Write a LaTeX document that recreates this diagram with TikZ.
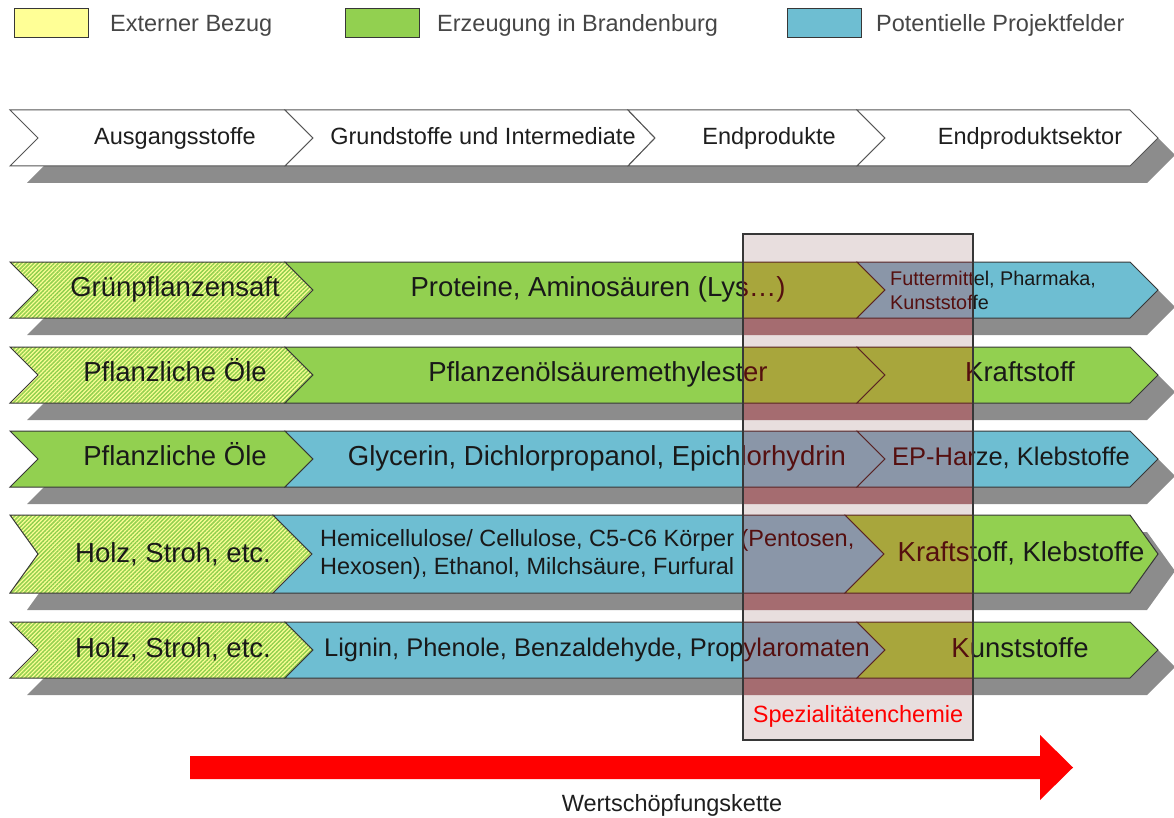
\documentclass[tikz,border=0pt]{standalone}
\usepackage{fontspec}
\setmainfont{Liberation Sans}
\usetikzlibrary{patterns.meta}

% base colours
\definecolor{legYellow}{RGB}{255,255,150}
\definecolor{chGreen}{RGB}{146,208,80}
\definecolor{chBlue}{RGB}{110,190,210}
\definecolor{chShadow}{RGB}{140,140,140}
\definecolor{chLine}{RGB}{55,55,55}
\definecolor{chText}{RGB}{25,25,25}
\definecolor{headText}{RGB}{30,30,30}
\definecolor{legText}{RGB}{70,70,70}
\definecolor{chainRed}{RGB}{255,0,0}
% tints seen through the "Spezialitätenchemie" frame
\definecolor{hlBack}{RGB}{232,222,222}
\definecolor{hlGreen}{RGB}{168,166,60}
\definecolor{hlBlue}{RGB}{138,150,168}
\definecolor{hlShadow}{RGB}{165,108,112}
\definecolor{hlText}{RGB}{85,15,15}
\definecolor{hlLine}{RGB}{90,35,35}

% colours used by the rows (switched inside the frame)
\colorlet{segGreen}{chGreen}
\colorlet{segBlue}{chBlue}
\colorlet{segShadow}{chShadow}
\colorlet{segLine}{chLine}
\colorlet{segText}{chText}

% one chevron segment: style, x-left, x-right, top, bottom, notch depth, tip depth
\newcommand\chevseg[7]{%
  \path[#1] (#2,#4) -- (#3,#4) -- ({#3+#7},{(#4+#5)/2}) -- (#3,#5)
    -- (#2,#5) -- ({#2+#6},{(#4+#5)/2}) -- cycle;}
% drop shadow under a full row
\newcommand\chevshadow[2]{%
  \path[shadow seg, shift={(17,17)}] (10,#1) -- (1130,#1) -- (1158,{(#1+#2)/2})
    -- (1130,#2) -- (10,#2) -- (38,{(#1+#2)/2}) -- cycle;}
% a row of three segments
\newcommand\chevrow[9]{%
  \chevshadow{#1}{#2}%
  \chevseg{#3}{10}{#4}{#1}{#2}{28}{#5}%
  \chevseg{#6}{#4}{#7}{#1}{#2}{#5}{#8}%
  \chevseg{#9}{#7}{1130}{#1}{#2}{#8}{28}}

% the five process chains with their labels
\newcommand\processrows{%
  \chevrow{262}{318}{hatch seg}{285}{28}{green seg}{857}{28}{blue seg}
  \chevrow{347}{403}{hatch seg}{285}{28}{green seg}{857}{28}{green seg}
  \chevrow{431}{487}{green seg}{285}{28}{blue seg}{857}{28}{blue seg}
  \chevrow{515}{593}{hatch seg}{273}{39}{blue seg}{845}{39}{green seg}
  \chevrow{622}{678}{hatch seg}{285}{28}{blue seg}{857}{28}{green seg}
  % row 1
  \node[big label] (r1a) at (175,287) {Grünpflanzensaft};
  \node[big label] (r1b) at (598,287) {Proteine, Aminosäuren (Lys…)};
  \node[small label, anchor=west] (r1c) at (890,290) {Futtermittel, Pharmaka,\\Kunststoffe};
  % row 2
  \node[big label] (r2a) at (175,372) {Pflanzliche Öle};
  \node[big label] (r2b) at (598,372) {Pflanzenölsäuremethylester};
  \node[big label] (r2c) at (1020,372) {Kraftstoff};
  % row 3
  \node[big label] (r3a) at (175,456) {Pflanzliche Öle};
  \node[big label] (r3b) at (597,456) {Glycerin, Dichlorpropanol, Epichlorhydrin};
  \node[ep label] (r3c) at (1011,456) {EP-Harze, Klebstoffe};
  % row 4
  \node[big label] (r4a) at (173,553) {Holz, Stroh, etc.};
  \node[two label, anchor=west] (r4b) at (320,554) {Hemicellulose/ Cellulose, C5-C6 Körper (Pentosen,\\Hexosen), Ethanol, Milchsäure, Furfural};
  \node[big label] (r4c) at (1021,552) {Kraftstoff, Klebstoffe};
  % row 5
  \node[big label] (r5a) at (173,647.5) {Holz, Stroh, etc.};
  \node[ep label] (r5b) at (597,647.5) {Lignin, Phenole, Benzaldehyde, Propylaromaten};
  \node[big label] (r5c) at (1020,647.5) {Kunststoffe};
}

\begin{document}
\begin{tikzpicture}[x=1pt, y=-1pt,
  seg base/.style={draw=segLine, line width=1pt, line join=miter},
  green seg/.style={seg base, fill=segGreen},
  blue seg/.style={seg base, fill=segBlue},
  hatch seg/.style={seg base, preaction={fill=legYellow},
    pattern={Lines[angle=45, distance=2.9pt, line width=1.5pt]}, pattern color=segGreen},
  white seg/.style={draw=chLine!85, line width=1pt, fill=white},
  shadow seg/.style={fill=segShadow},
  big label/.style={text=segText, inner sep=0pt, text height=19.7pt, text depth=0pt,
    font=\fontsize{27.5}{33}\selectfont},
  ep label/.style={big label, text height=18.3pt, font=\fontsize{25.5}{30}\selectfont},
  two label/.style={text=segText, inner sep=0pt, align=left,
    font=\fontsize{23.5}{28}\selectfont},
  small label/.style={text=segText, inner sep=0pt, align=left,
    font=\fontsize{19.8}{24}\selectfont},
  head label/.style={text=headText, inner sep=0pt, text height=16.8pt, text depth=0pt,
    font=\fontsize{23.5}{28}\selectfont},
  legend box/.style={draw=chLine, line width=1pt, minimum width=74pt, minimum height=29pt,
    inner sep=0pt},
  legend label/.style={text=legText, anchor=west, inner sep=0pt, text height=16.8pt,
    text depth=0pt, font=\fontsize{23.5}{28}\selectfont},
]
\useasboundingbox (0,0) rectangle (1174,818);

% legend
\node[legend box, fill=legYellow] (keyExt) at (51,23) {};
\node[legend label] (txtExt) at (110,23) {Externer Bezug};
\node[legend box, fill=chGreen] (keyBB) at (382.5,23) {};
\node[legend label] (txtBB) at (437,23) {Erzeugung in Brandenburg};
\node[legend box, fill=chBlue] (keyPF) at (824.5,23) {};
\node[legend label] (txtPF) at (876,23) {Potentielle Projektfelder};

% stage header
\chevshadow{110}{166}
\chevseg{white seg}{10}{285}{110}{166}{28}{28}
\chevseg{white seg}{285}{628}{110}{166}{28}{27}
\chevseg{white seg}{628}{857}{110}{166}{27}{28}
\chevseg{white seg}{857}{1130}{110}{166}{28}{28}
\node[head label] (h1) at (175,136) {Ausgangsstoffe};
\node[head label] (h2) at (483,136) {Grundstoffe und Intermediate};
\node[head label] (h3) at (769,136) {Endprodukte};
\node[head label] (h4) at (1030,136) {Endproduktsektor};

% process chains
\processrows

% the same chains seen through the highlight frame
\begin{scope}[name prefix=hl-]
  \colorlet{segGreen}{hlGreen}
  \colorlet{segBlue}{hlBlue}
  \colorlet{segShadow}{hlShadow}
  \colorlet{segLine}{hlLine}
  \colorlet{segText}{hlText}
  \clip (743,234) rectangle (973,740);
  \fill[hlBack] (743,234) rectangle (973,740);
  \processrows
\end{scope}
\node[draw=chLine, line width=1.2pt, minimum width=230pt, minimum height=506pt, inner sep=0pt]
  (spez) at (858,487) {};
\node[text=chainRed, inner sep=0pt, text height=16.8pt, text depth=0pt,
  font=\fontsize{23.5}{28}\selectfont] (spezLabel) at (858,714) {Spezialitätenchemie};

% value chain arrow
\fill[chainRed] (190,756) -- (1040,756) -- (1040,735) -- (1073,767.5) -- (1040,800)
  -- (1040,779) -- (190,779) -- cycle;
\node[text=headText, inner sep=0pt, text height=16.8pt, text depth=0pt,
  font=\fontsize{23.5}{28}\selectfont] (chainLabel) at (672,803) {Wertschöpfungskette};
\end{tikzpicture}
\end{document}
